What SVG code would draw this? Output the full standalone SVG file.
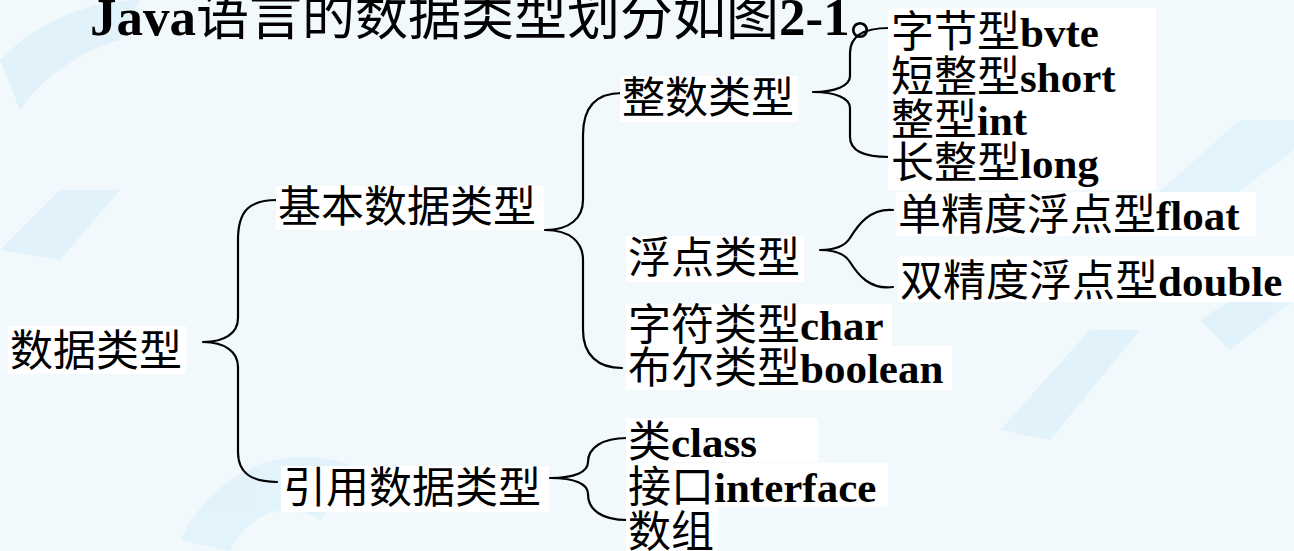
<svg xmlns="http://www.w3.org/2000/svg" width="1294" height="551" viewBox="0 0 1294 551">
<style>
.t{font-family:"Liberation Serif","Noto Sans CJK SC",serif;font-size:43px;fill:#000}
.b{font-weight:bold}
.bg{fill:#ffffff}
.br{fill:none;stroke:#000;stroke-width:2.2;stroke-linecap:round;stroke-linejoin:round}
</style>
<rect width="1294" height="551" fill="#f2f9fd"/>
<g id="watermark" fill="#dff1fa" opacity="0.8">
<path d="M0 60 C40 20 90 0 140 0 L120 40 C80 50 40 80 20 110 Z"/>
<path d="M0 250 L60 190 L120 190 L60 260 Z"/>
<path d="M180 540 C220 460 300 440 360 470 L320 520 C290 500 250 510 230 551 Z"/>
<path d="M1000 430 L1090 330 L1140 330 L1050 440 Z"/>
<path d="M1150 200 L1240 120 L1294 120 L1294 150 L1200 220 Z"/>
<path d="M1200 320 L1294 260 L1294 300 L1230 350 Z"/>
</g>
<g id="title">
<text class="t" x="90" y="35" style="font-size:53px"><tspan class="b">Java</tspan>语言的数据类型划分如图<tspan class="b">2-1</tspan>。</text>
</g>
<g id="connectors">
<path class="br" d="M277 200 C250 200 238 210 238 240 L238 318 C238 333 225 342 203 342 C225 342 238 352 238 367 L238 452 C238 472 250 482 277 482"/>
<path class="br" d="M622 93 C598 93 583 105 583 135 L583 200 C583 218 570 230 545 230 C570 230 583 242 583 260 L583 330 C583 355 598 368 622 368"/>
<path class="br" d="M889 28 C862 28 850 37 850 53 L850 76 C850 86 835 92 813 92 C835 92 850 98 850 108 L850 137 C850 150 862 157 889 157"/>
<path class="br" d="M893 210 C870 208 858 225 850 238 C845 246 835 250 820 250 C835 250 845 254 850 262 C858 275 870 290 893 287"/>
<path class="br" d="M627 438 C602 438 588 448 588 462 C588 472 575 478 550 478 C575 478 588 484 588 494 C588 510 602 520 627 520"/>
</g>
<g id="n-root"><rect class="bg" x="8" y="326" width="178" height="48"/><text class="t" x="10" y="366">数据类型</text></g>
<g id="n-basic"><rect class="bg" x="276" y="186" width="268" height="44"/><text class="t" x="278" y="222">基本数据类型</text></g>
<g id="n-ref"><rect class="bg" x="281" y="466" width="268" height="46"/><text class="t" x="283" y="503">引用数据类型</text></g>
<g id="n-int"><rect class="bg" x="620" y="76" width="178" height="46"/><text class="t" x="622" y="113">整数类型</text></g>
<g id="n-float"><rect class="bg" x="626" y="236" width="178" height="46"/><text class="t" x="628" y="273">浮点类型</text></g>
<g id="n-char"><rect class="bg" x="626" y="304" width="266" height="42"/><text class="t" x="628" y="340">字符类型<tspan class="b">char</tspan></text></g>
<g id="n-bool"><rect class="bg" x="626" y="346" width="326" height="44"/><text class="t" x="628" y="383">布尔类型<tspan class="b">boolean</tspan></text></g>
<g id="n-ints"><rect class="bg" x="888" y="8" width="268" height="182"/>
<text class="t" x="891" y="47">字节型<tspan class="b">bvte</tspan></text>
<text class="t" x="891" y="92">短整型<tspan class="b">short</tspan></text>
<text class="t" x="891" y="135">整型<tspan class="b">int</tspan></text>
<text class="t" x="891" y="178">长整型<tspan class="b">long</tspan></text>
</g>
<g id="n-single"><rect class="bg" x="896" y="192" width="360" height="44"/><text class="t" x="898" y="230">单精度浮点型<tspan class="b">float</tspan></text></g>
<g id="n-double"><rect class="bg" x="898" y="256" width="396" height="46"/><text class="t" x="900" y="296">双精度浮点型<tspan class="b">double</tspan></text></g>
<g id="n-class"><rect class="bg" x="626" y="418" width="192" height="44"/><text class="t" x="628" y="457">类<tspan class="b">class</tspan></text></g>
<g id="n-iface"><rect class="bg" x="626" y="463" width="262" height="44"/><text class="t" x="628" y="502">接口<tspan class="b">interface</tspan></text></g>
<g id="n-array"><rect class="bg" x="626" y="508" width="92" height="43"/><text class="t" x="628" y="547">数组</text></g>
</svg>
